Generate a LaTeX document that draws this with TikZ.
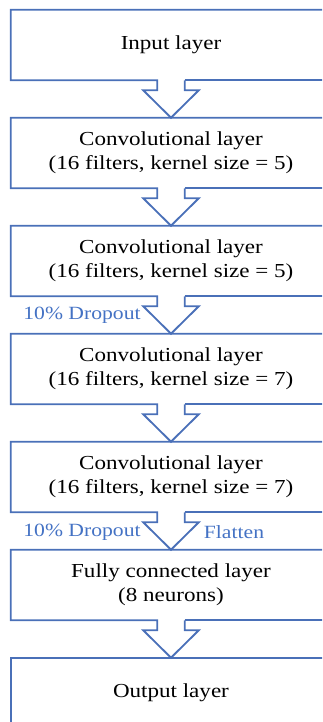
\documentclass[tikz,border=0pt]{standalone}
\usepackage{fontspec}
\setmainfont{Liberation Serif}[FakeStretch=1.16]
\definecolor{lineblue}{HTML}{4A70B8}
\definecolor{textblue}{HTML}{4472C4}
\begin{document}
\begin{tikzpicture}[x=0.75pt,y=-0.75pt,
  layerbox/.style={minimum width=252pt,minimum height=52.5pt,inner sep=0pt},
  layertext/.style={inner sep=0pt,align=center,font=\fontsize{14.9pt}{18pt}\selectfont},
  outline/.style={draw=lineblue,line width=1.4pt,line join=miter},
  lbl/.style={text=textblue,font=\fontsize{14pt}{16pt}\selectfont,inner sep=0pt}]
\useasboundingbox (0,0) rectangle (322,722);
\begin{scope}
\clip (0,0) rectangle (322,722);
\node[layerbox] (l1) at (179,45) {};
\node[layerbox] (l2) at (179,153) {};
\node[layerbox] (l3) at (179,261) {};
\node[layerbox] (l4) at (179,369) {};
\node[layerbox] (l5) at (179,477) {};
\node[layerbox] (l6) at (179,585) {};
\node[layerbox] (l7) at (179,693) {};
\node[layertext] (t1) at (171,45) {Input layer};
\node[layertext] (t2) at (171,153) {Convolutional layer\\(16 filters, kernel size = 5)};
\node[layertext] (t3) at (171,261) {Convolutional layer\\(16 filters, kernel size = 5)};
\node[layertext] (t4) at (171,369) {Convolutional layer\\(16 filters, kernel size = 7)};
\node[layertext] (t5) at (171,477) {Convolutional layer\\(16 filters, kernel size = 7)};
\node[layertext] (t6) at (171,585) {Fully connected layer\\(8 neurons)};
\node[layertext] (t7) at (171,693) {Output layer};
\foreach \a/\b in {1/2,2/3,3/4,4/5,5/6,6/7}{
  \coordinate (s\a) at (l\a.south -| t\a.center);
  \coordinate (n\a) at (l\b.north -| t\b.center);
  \draw[outline] ([xshift=10.3pt]s\a) -- (l\a.south east);
  \draw[outline] (l\a.north east) -- (l\a.north west) -- (l\a.south west) -- ([xshift=-10.3pt]s\a)
     -- ([xshift=-10.3pt,yshift=-7.5pt]s\a) -- ([xshift=-20.8pt,yshift=-7.5pt]s\a)
     -- (n\a) -- ([xshift=20.8pt,yshift=-7.5pt]s\a) -- ([xshift=10.3pt,yshift=-7.5pt]s\a)
     -- ([xshift=10.3pt]s\a);
}
\draw[outline] (l7.north east) -- (l7.north west) -- (l7.south west);
\end{scope}
\node[lbl] (d1) at (82,315) {10\% Dropout};
\node[lbl] (d2) at (82,532) {10\% Dropout};
\node[lbl] (fl) at (234,532) {Flatten};
\end{tikzpicture}
\end{document}
